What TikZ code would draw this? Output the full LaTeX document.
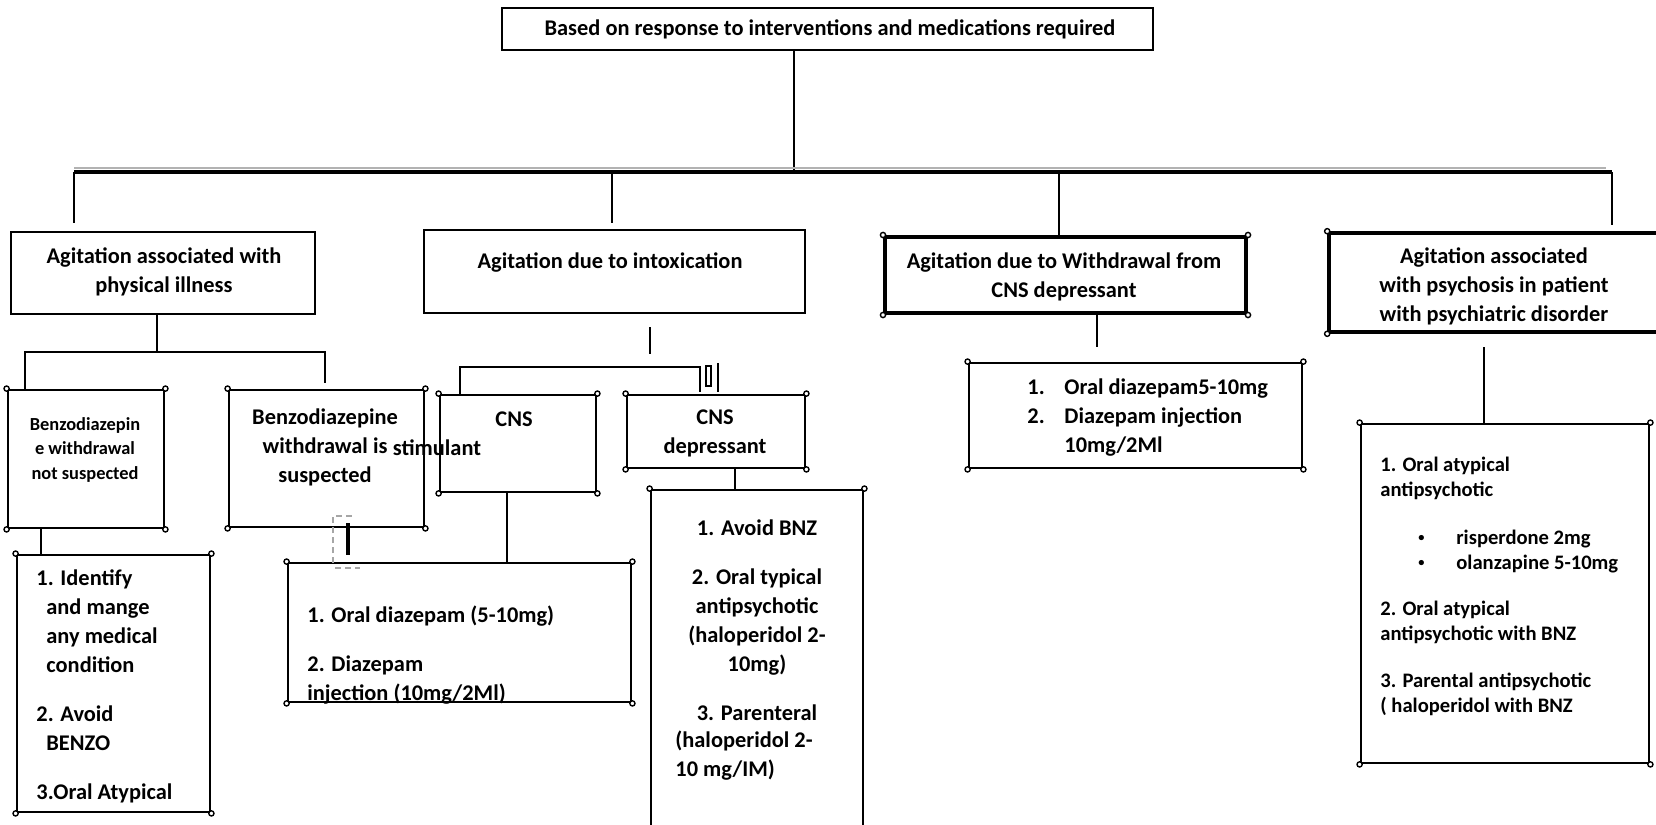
\documentclass[tikz,border=0pt]{standalone}
\usepackage{fontspec}
\setmainfont{Carlito}
\usetikzlibrary{fit}
\newcommand{\smbullet}{\raisebox{0.12em}{\scalebox{0.6}{\textbullet}}}
\begin{document}
\begin{tikzpicture}[x=0.5pt,y=-0.5pt,
  box/.style={draw, line width=1.4pt, inner sep=0pt, fit={#1}},
  txt/.style={inner sep=0pt, font=\bfseries\fontsize{11.2}{14.5}\selectfont},
  conn/.style={line width=1.3pt},
  busline/.style={line width=1.8pt},
  knob/.style={draw, fill=white, line width=0.7pt},
  faint/.style={gray!70, line width=0.6pt, densely dashed}
]
\useasboundingbox (0,0) rectangle (1656,825);
\clip (0,0) rectangle (1656,825);

% boxes
\node[box={(502,8)(1153,50)}] (T) {};
\node[box={(11,232)(315,314)}] (A1) {};
\node[box={(424,230)(805,313)}] (A2) {};
\node[box={(885,237)(1246,313)}, line width=2pt] (A3) {};
\node[box={(1329,233)(1675,332)}, line width=1.8pt] (A4) {};
\node[box={(8,390)(164,528)}] (B1) {};
\node[box={(229,390)(424,527)}] (B2) {};
\node[box={(440,395)(596,492)}] (CS) {};
\node[box={(627,395)(805,468)}] (CD) {};
\node[box={(17,555)(210,812)}] (C1) {};
\node[box={(288,563)(631,702)}] (D1) {};
\node[box={(651,490)(863,845)}] (D2) {};
\node[box={(969,363)(1302,468)}] (F) {};
\node[box={(1361,424)(1649,763)}] (E) {};

% corner knobs
\foreach \n in {B1,B2,CS,CD,C1,D1,F,E,A3}
  \foreach \a in {north west,north east,south west,south east}
    \draw[knob] (\n.\a) circle (2.6);
\foreach \a in {north west,north east} \draw[knob] (D2.\a) circle (2.6);
\foreach \a in {north west,south west} \draw[knob] (A4.\a) circle (2.6);

% texts
\node[txt] (tT) at (830,29) {Based on response to interventions and medications required};
\node[txt, align=center] (tA1) at (164,271.5) {Agitation associated with\\physical illness};
\node[txt] (tA2) at (610,263) {Agitation due to intoxication};
\node[txt, align=center] (tA3) at (1064,276.5) {Agitation due to Withdrawal from\\CNS depressant};
\node[txt, align=center] (tA4) at (1494,286.5) {Agitation associated\\with psychosis in patient\\with psychiatric disorder};
\node[txt, font=\bfseries\fontsize{9.2}{12.25}\selectfont, align=center] (tB1) at (85,449.5) {Benzodiazepin\\e withdrawal\\not suspected};
\node[txt, align=center] (tB2) at (325,447.5) {Benzodiazepine\\withdrawal is\\suspected};
\node[txt] (tCS) at (514,419) {CNS};
\node[txt] (tST) at (437,448) {stimulant};
\node[txt, align=center] (tCD) at (715,433) {CNS\\depressant};
\node[txt, align=left, anchor=west] (tC1) at (36,686) {1. Identify\\\hspace*{5pt}and mange\\\hspace*{5pt}any medical\\\hspace*{5pt}condition\\[10pt]2. Avoid\\\hspace*{5pt}BENZO\\[10pt]3.Oral Atypical};
\node[txt, align=left, anchor=west] (tD1) at (307,655) {1. Oral diazepam (5-10mg)\\[10pt]2. Diazepam\\injection (10mg/2Ml)};
\node[txt, align=center] (tD2a) at (757,620.5) {1. Avoid BNZ\\[10pt]2. Oral typical\\antipsychotic\\(haloperidol 2-\\10mg)\\[10pt]3. Parenteral};
\node[txt, align=left, anchor=west] (tD2b) at (675,756) {(haloperidol 2-\\10 mg/IM)};
\node[txt, align=left, anchor=west] (tF) at (1027,417.5) {\makebox[18.5pt][l]{1.}Oral diazepam5-10mg\\\makebox[18.5pt][l]{2.}Diazepam injection\\\hspace*{18.5pt}10mg/2Ml};
\node[txt, font=\bfseries\fontsize{10.3}{12.5}\selectfont, align=left, anchor=west] (tE) at (1380,586) {1. Oral atypical\\antipsychotic\\[11.5pt]\hspace*{19pt}\makebox[19pt][l]{\smbullet}risperdone 2mg\\\hspace*{19pt}\makebox[19pt][l]{\smbullet}olanzapine 5-10mg\\[10.5pt]2. Oral atypical\\antipsychotic with BNZ\\[11pt]3. Parental antipsychotic\\( haloperidol with BNZ};

% connector coordinates
\coordinate (t0) at (794,50);  \coordinate (t1) at (794,170);
\coordinate (b1) at (74,172);  \coordinate (b4) at (1612,172);
\coordinate (b2) at (612,172); \coordinate (b3) at (1059,172);
\coordinate (d1) at (74,223);  \coordinate (d2) at (612,223);
\coordinate (d3) at (1059,237); \coordinate (d4) at (1612,225);
\coordinate (a1s) at (157,314); \coordinate (a1h) at (157,352);
\coordinate (h1L) at (25,352); \coordinate (h1R) at (325,352);
\coordinate (h1Ld) at (25,390); \coordinate (h1Rd) at (325,383);
\coordinate (c1a) at (41,528); \coordinate (c1b) at (41,555);
\coordinate (a2a) at (650,327); \coordinate (a2b) at (650,354);
\coordinate (h2L) at (460,367); \coordinate (h2R) at (700,367);
\coordinate (h2Ld) at (460,395); \coordinate (v1b) at (700,392);
\coordinate (v2a) at (718,363); \coordinate (v2b) at (718,392);
\coordinate (cs1) at (507,492); \coordinate (cs2) at (507,563);
\coordinate (cd1) at (735,468); \coordinate (cd2) at (735,490);
\coordinate (a3a) at (1097,313); \coordinate (a3b) at (1097,347);
\coordinate (a4a) at (1484,347); \coordinate (a4b) at (1484,424);
\coordinate (b2a) at (348,523); \coordinate (b2b) at (348,555);

% connectors
\draw[conn] (t0) -- (t1);
\draw[busline] (b1) -- (b4);
\draw[gray!60, line width=0.7pt] (b1) ++(0,-4) -- ++(1532,0);
\draw[conn] (b1) -- (d1);
\draw[conn] (b2) -- (d2);
\draw[conn] (b3) -- (d3);
\draw[conn] (b4) -- (d4);
\draw[conn] (a1s) -- (a1h);
\draw[conn] (h1Ld) -- (h1L) -- (h1R) -- (h1Rd);
\draw[conn] (c1a) -- (c1b);
\draw[conn] (a2a) -- (a2b);
\draw[conn] (h2Ld) -- (h2L) -- (h2R) -- (v1b);
\draw[line width=0.6pt] (v2a) -- (v2b);
\draw[line width=0.6pt] (706,366) rectangle (711,386);
\draw[conn] (cs1) -- (cs2);
\draw[conn] (cd1) -- (cd2);
\draw[conn] (a3a) -- (a3b);
\draw[conn] (a4a) -- (a4b);
\draw[line width=2pt] (b2a) -- (b2b);
\draw[faint] (333,563) -- (333,516) -- (353,516);
\draw[faint] (335,568) -- (360,568);
\end{tikzpicture}
\end{document}
